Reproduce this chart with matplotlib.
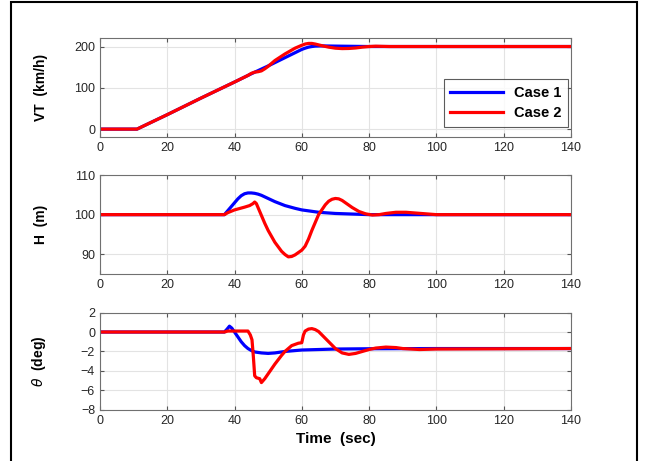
import matplotlib.pyplot as plt
from matplotlib.patches import Rectangle

plt.rcParams['font.family'] = ['Liberation Sans', 'DejaVu Sans']

# speed VT (km/h)
t_vt1 = [0, 11, 20, 30, 40, 45, 50, 55, 58, 60, 61, 62, 63, 64, 66, 70, 80, 100, 140]
vt1 = [0, 0, 35, 75, 114, 134, 153, 173, 185, 193, 196, 198.5, 200, 201, 201.5, 201, 200, 200, 200]
t_vt2 = [0, 11, 20, 30, 40, 44, 45, 46, 47, 48, 49, 50, 52, 55, 58, 60, 61, 62, 63, 64, 66, 68, 70, 72, 74, 76, 78, 80, 82, 86, 140]
vt2 = [0, 0, 35, 75, 114, 130, 135, 138, 139, 141, 146, 152, 166, 182, 196, 203, 206, 207.5, 207.5, 206, 202, 198.5, 196, 195, 195.3, 196.5, 198.5, 200, 200.8, 200, 200]

# altitude H (m)
t_h1 = [0, 37, 38, 39, 40, 41, 42, 43, 44, 45, 46, 47, 48, 50, 52, 55, 58, 60, 65, 70, 80, 100, 140]
h1 = [100, 100, 101, 102, 103, 104, 104.8, 105.3, 105.5, 105.5, 105.4, 105.2, 104.9, 104.1, 103.3, 102.3, 101.6, 101.2, 100.6, 100.3, 100, 100, 100]
t_h2 = [0, 37, 38, 40, 43, 44.5, 45.5, 46, 46.5, 47, 48, 49, 50, 52, 54, 55, 56, 57, 58, 59, 60, 61, 62, 63, 65, 67, 68, 69, 70, 71, 72, 73, 75, 77, 79, 81, 83, 85, 88, 91, 94, 97, 100, 140]
h2 = [100, 100, 100.5, 101.2, 101.9, 102.3, 102.8, 103.2, 102.8, 101.8, 99.8, 97.8, 96, 93, 90.7, 89.9, 89.3, 89.4, 89.8, 90.4, 91, 92, 93.8, 96, 100, 102.5, 103.4, 103.9, 104.1, 104, 103.6, 103, 101.8, 100.8, 100.2, 99.9, 100, 100.3, 100.6, 100.6, 100.4, 100.2, 100, 100]

# pitch angle theta (deg)
t_th1 = [0, 37, 37.8, 38.5, 39.2, 40, 41, 42, 43, 44, 45, 46, 48, 50, 52, 55, 60, 70, 80, 100, 140]
th1 = [0, 0, 0.3, 0.6, 0.4, 0, -0.5, -1, -1.4, -1.7, -1.9, -2.05, -2.15, -2.2, -2.15, -2.0, -1.85, -1.75, -1.72, -1.7, -1.7]
t_th2 = [0, 37, 38, 44, 44.7, 45.2, 45.6, 46, 46.5, 47.5, 48, 49, 50, 52, 54, 55, 57, 59, 60, 60.5, 61, 62, 63, 64, 65, 66, 68, 70, 72, 74, 76, 78, 80, 82, 85, 88, 90, 95, 100, 140]
th2 = [0, 0, 0.1, 0.1, -0.3, -0.8, -2.5, -4.5, -4.7, -4.8, -5.2, -4.8, -4.3, -3.3, -2.4, -2.0, -1.4, -1.15, -1.1, -0.3, 0.1, 0.3, 0.35, 0.25, 0.05, -0.3, -1.0, -1.7, -2.15, -2.3, -2.2, -2.0, -1.8, -1.65, -1.55, -1.6, -1.7, -1.8, -1.75, -1.7]

fig = plt.figure(figsize=(6.45, 4.61), dpi=100)
fig.patches.append(Rectangle((11 / 645, -0.05), 626 / 645, 1.05 - 2 / 461,
                             transform=fig.transFigure, fill=False,
                             edgecolor='black', linewidth=1.5))

ax1 = fig.add_axes([0.155, 0.702, 0.730, 0.215])
ax2 = fig.add_axes([0.155, 0.406, 0.730, 0.214])
ax3 = fig.add_axes([0.155, 0.111, 0.730, 0.211])

lw = 2.3
ax1.plot(t_vt1, vt1, color='blue', lw=lw, label='Case 1')
ax1.plot(t_vt2, vt2, color='red', lw=lw, label='Case 2')
ax2.plot(t_h1, h1, color='blue', lw=lw)
ax2.plot(t_h2, h2, color='red', lw=lw)
ax3.plot(t_th1, th1, color='blue', lw=lw)
ax3.plot(t_th2, th2, color='red', lw=lw)

ax1.set_ylim(-20, 220)
ax1.set_yticks([0, 100, 200])
ax2.set_ylim(85, 110)
ax2.set_yticks([90, 100, 110])
ax3.set_ylim(-8, 2)
ax3.set_yticks([-8, -6, -4, -2, 0, 2])

for ax in (ax1, ax2, ax3):
    ax.set_xlim(0, 140)
    ax.set_xticks(range(0, 141, 20))
    ax.grid(True, color='#e3e3e3', linewidth=0.8)
    ax.set_axisbelow(True)
    ax.tick_params(direction='in', top=True, right=True, labelsize=9,
                   color='#555555', length=3, labelcolor='#262626')
    for s in ax.spines.values():
        s.set_color('#707070')

ax1.set_ylabel('VT  (km/h)', fontsize=10, fontweight='bold')
ax2.set_ylabel('H  (m)', fontsize=10, fontweight='bold')
ax3.set_ylabel(r'$\it{\theta}$  (deg)', fontsize=10, fontweight='bold')
for ax in (ax1, ax2, ax3):
    ax.yaxis.set_label_coords(-0.11, 0.5)
ax3.set_xlabel('Time  (sec)', fontsize=11, fontweight='bold')

leg = ax1.legend(loc='lower right', prop={'weight': 'bold', 'size': 10.5},
                 fancybox=False, edgecolor='#333333', handlelength=3.6,
                 borderpad=0.45, labelspacing=0.45, borderaxespad=0,
                 bbox_to_anchor=(0.995, 0.105))
leg.get_frame().set_linewidth(0.8)

fig.savefig('out.png', dpi=100)
